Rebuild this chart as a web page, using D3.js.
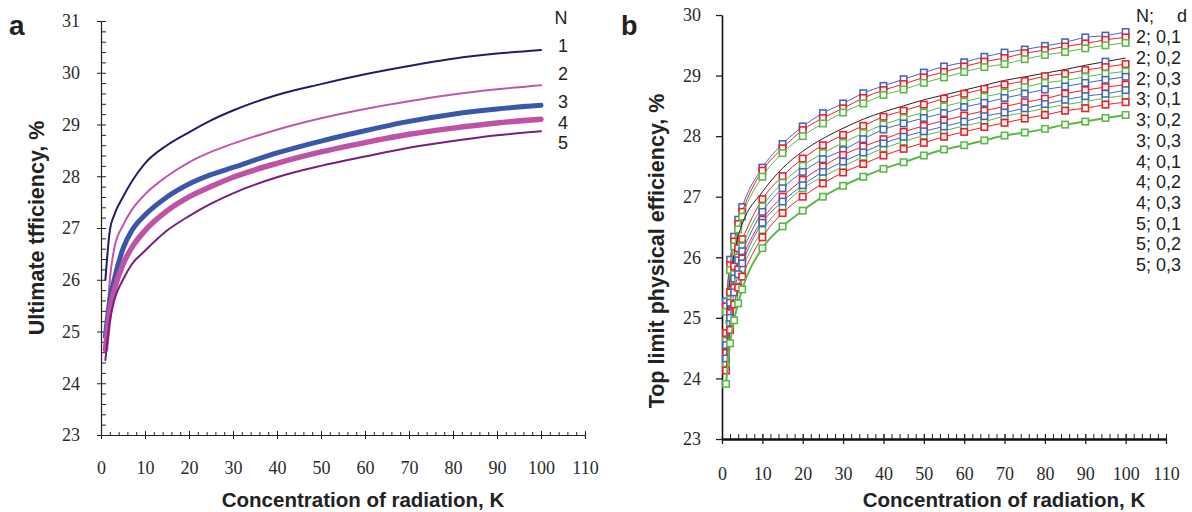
<!DOCTYPE html>
<html>
<head>
<meta charset="utf-8">
<script src="https://cdn.jsdelivr.net/npm/d3@7"></script>
<style>
  body { margin: 0; background: #fff; }
  svg { display: block; }
  .tickfont text { font-family: "Liberation Serif", "DejaVu Serif", serif; font-size: 18px; fill: #2a2a2a; }
</style>
</head>
<body>
<div id="main"></div>
<script>
const width = 1192;
const height = 512;

// ---- panel a data ----
const leftK = [1, 2, 3, 5, 7, 10, 15, 20, 25, 30, 40, 50, 60, 70, 80, 90, 100];
const leftLabels = ["1", "2", "3", "4", "5"];
const effN1 = [26.0, 26.95, 27.25, 27.6, 27.9, 28.25, 28.6, 28.85, 29.08, 29.27, 29.57, 29.78, 29.97, 30.13, 30.27, 30.37, 30.44];
const effN2 = [24.7, 26.0, 26.6, 27.05, 27.35, 27.65, 28.0, 28.27, 28.47, 28.63, 28.9, 29.12, 29.3, 29.45, 29.58, 29.68, 29.76];
const effN3 = [24.9, 25.6, 26.0, 26.6, 26.95, 27.25, 27.6, 27.85, 28.03, 28.17, 28.45, 28.68, 28.88, 29.06, 29.2, 29.3, 29.37];
const effN4 = [24.65, 25.4, 25.8, 26.3, 26.62, 26.95, 27.33, 27.6, 27.8, 27.98, 28.25, 28.47, 28.65, 28.81, 28.93, 29.03, 29.1];
const effN5 = [24.45, 25.2, 25.6, 26.0, 26.3, 26.56, 26.95, 27.23, 27.47, 27.67, 27.98, 28.2, 28.38, 28.55, 28.68, 28.79, 28.87];

// ---- panel b data ----
const rightK = [1, 2, 3, 4, 5, 10, 15, 20, 25, 30, 35, 40, 45, 50, 55, 60, 65, 70, 75, 80, 85, 90, 95, 100];
const rightLabels = ["2; 0,1", "2; 0,2", "2; 0,3", "3; 0,1", "3; 0,2", "3; 0,3",
                     "4; 0,1", "4; 0,2", "4; 0,3", "5; 0,1", "5; 0,2", "5; 0,3"];
const top2_01 = [25.27, 25.96, 26.34, 26.62, 26.83, 27.48, 27.87, 28.16, 28.38, 28.54, 28.71, 28.83, 28.94, 29.05, 29.15, 29.22, 29.31, 29.38, 29.43, 29.49, 29.55, 29.63, 29.66, 29.72];
const top2_02 = [25.19, 25.87, 26.26, 26.55, 26.75, 27.43, 27.80, 28.10, 28.30, 28.46, 28.63, 28.76, 28.86, 28.97, 29.06, 29.15, 29.23, 29.29, 29.37, 29.42, 29.48, 29.53, 29.59, 29.63];
const top2_03 = [25.10, 25.79, 26.18, 26.46, 26.67, 27.33, 27.72, 28.00, 28.21, 28.39, 28.54, 28.68, 28.77, 28.88, 28.97, 29.06, 29.14, 29.19, 29.27, 29.34, 29.39, 29.45, 29.50, 29.54];
const top3_01 = [24.9, 25.65, 26.05, 26.35, 26.55, 27.08, 27.47, 27.75, 27.96, 28.13, 28.28, 28.40, 28.50, 28.60, 28.68, 28.76, 28.84, 28.92, 28.98, 29.04, 29.10, 29.17, 29.23, 29.29];
const top3_02 = [24.75, 25.42, 25.85, 26.15, 26.30, 26.96, 27.34, 27.63, 27.85, 28.02, 28.17, 28.32, 28.42, 28.52, 28.62, 28.70, 28.78, 28.85, 28.91, 28.99, 29.03, 29.09, 29.14, 29.19];
const top3_03 = [24.62, 25.30, 25.72, 26.00, 26.18, 26.84, 27.23, 27.51, 27.72, 27.89, 28.05, 28.19, 28.30, 28.39, 28.49, 28.57, 28.65, 28.72, 28.81, 28.88, 28.92, 28.98, 29.03, 29.07];
const top4_01 = [24.55, 25.25, 25.65, 25.95, 26.10, 26.75, 27.14, 27.41, 27.62, 27.77, 27.95, 28.11, 28.21, 28.30, 28.38, 28.48, 28.55, 28.63, 28.70, 28.77, 28.82, 28.88, 28.93, 28.98];
const top4_02 = [24.42, 25.08, 25.50, 25.80, 25.98, 26.62, 27.00, 27.28, 27.50, 27.69, 27.83, 27.95, 28.07, 28.17, 28.26, 28.34, 28.42, 28.49, 28.56, 28.62, 28.70, 28.76, 28.81, 28.85];
const top4_03 = [24.25, 24.92, 25.35, 25.62, 25.80, 26.45, 26.84, 27.14, 27.33, 27.50, 27.66, 27.80, 27.91, 28.01, 28.09, 28.17, 28.24, 28.33, 28.39, 28.46, 28.52, 28.57, 28.63, 28.67];
const top5_01 = [24.33, 25.00, 25.42, 25.72, 25.90, 26.57, 26.92, 27.19, 27.41, 27.58, 27.73, 27.88, 27.99, 28.08, 28.16, 28.24, 28.33, 28.39, 28.46, 28.53, 28.60, 28.66, 28.70, 28.76];
const top5_02 = [24.13, 24.80, 25.22, 25.50, 25.68, 26.33, 26.73, 27.00, 27.22, 27.40, 27.54, 27.68, 27.79, 27.89, 27.99, 28.07, 28.15, 28.22, 28.29, 28.35, 28.42, 28.46, 28.52, 28.56];
const top5_03 = [23.91, 24.58, 24.96, 25.24, 25.47, 26.15, 26.51, 26.77, 27.00, 27.18, 27.33, 27.46, 27.57, 27.68, 27.78, 27.85, 27.93, 28.01, 28.06, 28.12, 28.19, 28.24, 28.30, 28.35];

const xTicks = d3.range(0, 111, 10);
const yTicksLeft = d3.range(23, 32, 1);
const yTicksRight = d3.range(23, 31, 1);

// styles
const leftStyle = [
  { color: "#211c6e", w: 2 },
  { color: "#c058aa", w: 2 },
  { color: "#3b57a9", w: 5 },
  { color: "#c052a6", w: 5.5 },
  { color: "#76207a", w: 2 },
];
const dColor = { "0,1": "#4468c0", "0,2": "#ec1f2a", "0,3": "#5cb947" };

const svg = d3.select("#main").append("svg").attr("width", width).attr("height", height);

const sans = "Liberation Sans, Arial, sans-serif";
const intFmt = d3.format("d");

function ticksOnly(g) {
  g.select(".domain").remove();
  g.selectAll("line").attr("stroke", "#222");
}

// ================= panel a =================
const xL = d3.scaleLinear().domain([0, 110]).range([101, 585]);
const yL = d3.scaleLinear().domain([23, 31]).range([435, 21]);

// minor ticks
svg.append("g").attr("transform", `translate(0,${yL(23)})`)
  .call(d3.axisBottom(xL).tickValues(d3.range(0, 111, 2)).tickSize(-3).tickFormat(""))
  .call(ticksOnly);
svg.append("g").attr("transform", `translate(${xL(0)},0)`)
  .call(d3.axisLeft(yL).tickValues(d3.range(23, 31.01, 0.2)).tickSize(-5).tickFormat(""))
  .call(ticksOnly);
// inward part of the major ticks
svg.append("g").attr("transform", `translate(0,${yL(23)})`)
  .call(d3.axisBottom(xL).tickValues(xTicks).tickSize(-4).tickFormat(""))
  .call(ticksOnly);

const axBL = svg.append("g").attr("class", "tickfont").attr("transform", `translate(0,${yL(23)})`)
  .call(d3.axisBottom(xL).tickValues(xTicks).tickFormat(intFmt).tickSizeInner(4).tickSizeOuter(0).tickPadding(22));
const axLL = svg.append("g").attr("class", "tickfont").attr("transform", `translate(${xL(0)},0)`)
  .call(d3.axisLeft(yL).tickValues(yTicksLeft).tickFormat(intFmt).tickSizeInner(4).tickSizeOuter(0).tickPadding(17));
[axBL, axLL].forEach((g) => {
  g.attr("font-family", null).attr("font-size", null);
  g.select(".domain").attr("stroke", "#222").attr("stroke-width", 1.2);
  g.selectAll("line").attr("stroke", "#222");
});

const leftSeries = [effN1, effN2, effN3, effN4, effN5];
const lineL = d3.line().x((d) => xL(d[0])).y((d) => yL(d[1])).curve(d3.curveMonotoneX);
leftSeries.forEach((vals, i) => {
  svg.append("path")
    .datum(leftK.map((k, j) => [k, vals[j]]))
    .attr("fill", "none")
    .attr("stroke", leftStyle[i].color)
    .attr("stroke-width", leftStyle[i].w)
    .attr("stroke-linecap", "round")
    .attr("d", lineL);
});

// legend a
const legA = svg.append("g").style("font-family", sans).style("font-size", "18px").attr("fill", "#222");
legA.append("text").attr("x", 561).attr("y", 18).attr("dy", "0.35em").attr("text-anchor", "middle").text("N");
const legAY = [46, 74, 102, 123, 143];
leftLabels.forEach((t, i) => {
  legA.append("text").attr("x", 563).attr("y", legAY[i]).attr("dy", "0.35em").attr("text-anchor", "middle").text(t);
});

svg.append("text").attr("x", 9).attr("y", 35).text("a")
  .style("font-family", sans).style("font-weight", "bold").style("font-size", "28px").attr("fill", "#222");
svg.append("text").attr("x", 363).attr("y", 507).attr("text-anchor", "middle")
  .text("Concentration of radiation, K")
  .style("font-family", sans).style("font-weight", "bold").style("font-size", "20.5px").attr("fill", "#222");
svg.append("text").attr("transform", "translate(44,228) rotate(-90)").attr("text-anchor", "middle")
  .text("Ultimate tfficiency, %")
  .style("font-family", sans).style("font-weight", "bold").style("font-size", "21.5px").attr("fill", "#222");

// ================= panel b =================
const xR = d3.scaleLinear().domain([0, 110]).range([722, 1166]);
const yR = d3.scaleLinear().domain([23, 30]).range([439, 15]);

svg.append("g").attr("transform", `translate(0,${yR(23)})`)
  .call(d3.axisBottom(xR).tickValues(d3.range(0, 111, 2)).tickSize(-5).tickFormat(""))
  .call(ticksOnly);
svg.append("g").attr("transform", `translate(0,${yR(23)})`)
  .call(d3.axisBottom(xR).tickValues(xTicks).tickSize(-5).tickFormat(""))
  .call(ticksOnly);

const axBR = svg.append("g").attr("class", "tickfont").attr("transform", `translate(0,${yR(23)})`)
  .call(d3.axisBottom(xR).tickValues(xTicks).tickFormat(intFmt).tickSizeInner(5).tickSizeOuter(0).tickPadding(23));
const axLR = svg.append("g").attr("class", "tickfont").attr("transform", `translate(${xR(0)},0)`)
  .call(d3.axisLeft(yR).tickValues(yTicksRight).tickFormat(intFmt).tickSizeInner(6).tickSizeOuter(0).tickPadding(15));
axBR.select(".domain").attr("stroke", "#111").attr("stroke-width", 2.4);
axLR.select(".domain").attr("stroke", "#111").attr("stroke-width", 1.6);
[axBR, axLR].forEach((g) => {
  g.attr("font-family", null).attr("font-size", null);
  g.selectAll("line").attr("stroke", "#222").attr("stroke-width", 1.3);
});

const rightSeries = [top2_01, top2_02, top2_03, top3_01, top3_02, top3_03,
                     top4_01, top4_02, top4_03, top5_01, top5_02, top5_03];
const lineR = d3.line().x((d) => xR(d[0])).y((d) => yR(d[1])).curve(d3.curveMonotoneX);

const plotR = svg.append("g");
rightSeries.forEach((vals, i) => {
  const label = rightLabels[i];
  const d = label.split("; ")[1];
  const color = dColor[d];
  const pts = rightK.map((k, j) => [k, vals[j]]);
  // the 3; 0,1 curve is drawn as a plain black line in the original
  const plainLine = label === "3; 0,1";
  const thick = label === "5; 0,3";
  plotR.append("path")
    .datum(pts)
    .attr("fill", "none")
    .attr("stroke", plainLine ? "#222" : color)
    .attr("stroke-width", thick ? 2 : 1)
    .attr("d", lineR);
  const mk = plainLine ? pts.filter((p) => p[0] === 95) : pts;
  plotR.selectAll(null)
    .data(mk)
    .enter()
    .append("rect")
    .attr("x", (p) => xR(p[0]) - 3.2)
    .attr("y", (p) => yR(p[1]) - 3.2)
    .attr("width", 6.4)
    .attr("height", 6.4)
    .attr("fill", "#fff")
    .attr("stroke", color)
    .attr("stroke-width", 1.6);
});

// legend b
const legB = svg.append("g").style("font-family", sans).style("font-size", "18px").attr("fill", "#222");
legB.append("text").attr("x", 1136).attr("y", 16).attr("dy", "0.35em").text("N;");
legB.append("text").attr("x", 1177).attr("y", 16).attr("dy", "0.35em").text("d");
rightLabels.forEach((t, i) => {
  legB.append("text").attr("x", 1136).attr("y", 37 + i * 20.7).attr("dy", "0.35em").text(t);
});

svg.append("text").attr("x", 621).attr("y", 35).text("b")
  .style("font-family", sans).style("font-weight", "bold").style("font-size", "27px").attr("fill", "#222");
svg.append("text").attr("x", 1004).attr("y", 507).attr("text-anchor", "middle")
  .text("Concentration of radiation, K")
  .style("font-family", sans).style("font-weight", "bold").style("font-size", "20.5px").attr("fill", "#222");
svg.append("text").attr("transform", "translate(664,251) rotate(-90)").attr("text-anchor", "middle")
  .text("Top limit physical efficiency, %")
  .style("font-family", sans).style("font-weight", "bold").style("font-size", "21.5px").attr("fill", "#222");
</script>
</body>
</html>
